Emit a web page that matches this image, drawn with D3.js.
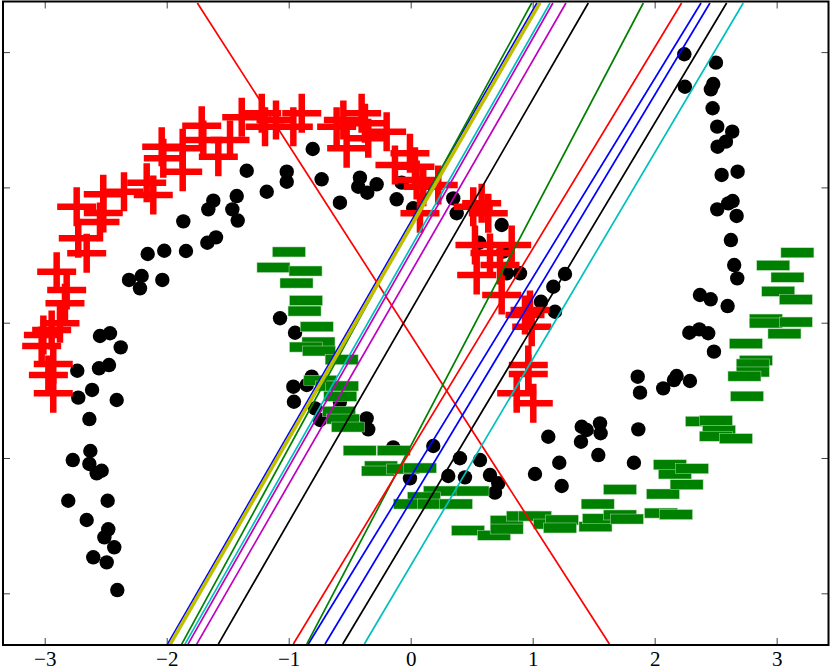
<!DOCTYPE html>
<html>
<head>
<meta charset="utf-8">
<script src="https://cdn.jsdelivr.net/npm/d3@7"></script>
<style>
  body { margin: 0; background: #fff; }
  svg { display: block; }
</style>
</head>
<body>
<svg id="chart" width="830" height="670"></svg>
<script>
// tick values
const xTicks = [-3, -2, -1, 0, 1, 2, 3];
const yTicks = [-2, -1, 0, 1, 2];

// class 1: black dots
const blackX = [2.243, 2.502, 2.248, 2.480, 2.461, 2.475, 2.513, 2.636, 2.584, 2.516, 2.549, 2.680, 2.513, 2.639, 2.603, 2.672, 2.625, 2.652, 2.677, 2.371, 2.459, 2.598, 2.284, 2.366, 2.439, 2.486,
  1.861, 1.880, 2.070, 2.180, 2.158, 2.289,
  1.402, 1.443, 1.552, 1.557, 1.396, 1.866, 1.830, 1.538, 1.218, 1.238, 1.128, 1.019,
  0.404, 0.568, 0.308, 0.445, 0.650, 0.718, 0.691,
  -0.006, 0.185, -0.143,
  -0.361, -0.348, -0.580, -0.743, -0.784, -0.811, -0.852, -0.962, -0.957, -0.948, -1.071,
  0.746, 0.562, 0.759, 0.896, 0.787, 1.169, 1.068, 1.183, 1.265,
  -0.803, -1.016, -1.016, -0.730, -0.580, -0.416, -0.430, -0.356, -0.279, -0.115, -0.074, 0.021, 0.349, 0.377,
  -1.344, -1.180, -1.426, -1.618, -1.659, -1.462, -1.418, -1.864,
  -1.596, -1.667, -2.156, -2.020, -1.842, -2.309, -2.205, -2.219, -2.036, -2.547, -2.465, -2.377, -2.733, -2.555, -2.473, -2.612, -2.725,
  -2.410, -2.634, -2.626, -2.770, -2.634, -2.574, -2.533, -2.807, -2.484, -2.656, -2.479, -2.511, -2.430, -2.602, -2.492, -2.405];
const blackY = [1.984, 1.922, 1.744, 1.764, 1.725, 1.585, 1.449, 1.412, 1.338, 1.301, 1.092, 1.116, 0.838, 0.899, 0.882, 0.789, 0.611, 0.426, 0.328, 0.205, 0.173, 0.123, -0.074, -0.049, -0.078, -0.214,
  -0.399, -0.517, -0.485, -0.394, -0.424, -0.431,
  -0.769, -0.793, -0.744, -0.817, -0.880, -0.788, -1.035, -0.978, -1.035, -1.207, -0.843, -1.118,
  -1.002, -1.015, -1.133, -1.143, -1.126, -1.187, -1.256,
  -1.150, -0.911, -0.922,
  -0.707, -0.788, -0.584, -0.719, -0.633, -0.399, -0.460, -0.473, -0.584, -0.074, 0.033,
  0.722, 0.591, 0.525, 0.365, 0.365, 0.266, 0.155, 0.081, 0.360,
  1.284, 1.116, 1.042, 1.060, 0.887, 1.072, 1.005, 0.961, 1.023, 0.912, 1.035, 0.846, 0.919, 0.809,
  1.123, 0.968, 0.936, 0.902, 0.838, 0.838, 0.755, 0.749,
  0.631, 0.591, 0.508, 0.532, 0.530, 0.316, 0.345, 0.254, 0.316, -0.098, -0.078, -0.182, -0.355, -0.337, -0.313, -0.497, -0.554,
  -0.571, -0.712, -0.948, -1.015, -1.044, -1.113, -1.094, -1.316, -1.316, -1.458, -1.527, -1.586, -1.660, -1.734, -1.771, -1.976];

// class 2: red plus markers
const plusX = [-2.725, -2.547, -2.656, -2.902, -2.820, -2.834, -2.875, -3.011, -2.943, -3.025, -2.930, -2.970, -2.930,
  -2.738, -2.520, -2.520, -2.350, -2.164, -2.110, -2.041, -2.028, -1.869, -1.869, -1.713, -1.700, -1.577, -1.481, -1.385, -1.221, -1.194, -1.104,
  -0.893, -0.962, -0.607, -0.552, -0.402, -0.375, -0.525, -0.197, -0.348, -0.129, -0.006, 0.035, 0.049, 0.103, 0.076, 0.226, 0.582, 0.636, 0.513,
  0.527, 0.650, 0.732, 0.828, 0.541, 0.746, 0.978, 0.992, 0.937, 0.964, 0.964, 0.869, 1.005];
const plusY = [0.624, 0.744, 0.513, 0.377, 0.242, 0.143, -0.004, -0.091, -0.054, -0.172, -0.305, -0.387, -0.522,
  0.857, 0.949, 0.811, 0.968, 1.035, 0.944, 1.301, 1.215, 1.289, 1.116, 1.456, 1.350, 1.227, 1.350, 1.518, 1.548, 1.449, 1.498,
  1.548, 1.449, 1.449, 1.498, 1.548, 1.474, 1.289, 1.412, 1.363, 1.166, 1.252, 1.153, 1.055, 1.005, 0.809, 1.018, 0.882, 0.809, 0.857,
  0.574, 0.515, 0.426, 0.574, 0.353, 0.205, 0.094, -0.030, 0.057, -0.313, -0.379, -0.522, -0.596];

// class 3: green minus markers
const minusX = [-0.998, -1.125, -0.862, -0.936, -0.858, -0.870, -0.770, -0.756, -0.858, -0.752, -0.566, -0.741, -0.645, -0.563, -0.577, -0.588, -0.555, -0.514,
  -0.418, -0.139, -0.243, -0.268, -0.063, 0.076, 0.240, 0.507, 0.109, -0.006, 0.191, 0.371, 0.787, 0.920, 1.019, 1.142, 0.470, 0.683, 0.787,
  1.240, 1.224, 1.515, 1.543, 1.716, 1.773, 1.533, 1.716, 2.052, 2.175, 2.068, 2.262, 2.166, 2.125, 2.306, 2.388, 2.502, 2.527, 2.502, 2.666,
  3.170, 2.972, 3.089, 3.013, 3.157, 2.912, 2.912, 3.157, 3.064, 2.748, 2.830, 2.804, 2.804, 2.736, 2.757];
const minusY = [0.523, 0.408, 0.382, 0.293, 0.164, 0.086, -0.030, -0.143, -0.180, -0.209, -0.273, -0.426, -0.468, -0.468, -0.544, -0.655, -0.712, -0.771,
  -0.945, -0.945, -1.059, -1.096, -1.081, -1.074, -1.244, -1.244, -1.288, -1.340, -1.340, -1.340, -1.462, -1.429, -1.429, -1.488, -1.536, -1.571, -1.525,
  -1.458, -1.517, -1.508, -1.449, -1.421, -1.451, -1.340, -1.233, -1.407, -1.418, -1.266, -1.197, -1.118, -1.050, -1.079, -0.729, -0.723, -0.795, -0.839, -0.857,
  0.517, 0.424, 0.336, 0.232, 0.171, 0.027, -0.002, 0.005, -0.082, -0.155, -0.279, -0.305, -0.364, -0.395, -0.543];

// separating lines: x where each crosses the top (lineTopY) and bottom (lineBottomY)
const lineTopY = 2.363;
const lineBottomY = -2.375;
const lineColors = ['b', 'g', 'r', 'c', 'm', 'y', 'k', 'b', 'g', 'r', 'c', 'm', 'y', 'k', 'b'];
const lineTopX = [1.035, 0.992, -1.749, 1.142, 1.166, 1.052, 1.456, 2.380, 1.907, 2.221, 2.726, 1.273, 1.064, 2.590, 2.453];
const lineBottomX = [-1.993, -1.877, 1.629, -1.850, -1.825, -1.977, -1.577, -0.839, -0.852, -0.962, -0.380, -1.754, -1.965, -0.557, -0.702];

const colorMap = {
  b: '#0000ff', g: '#008000', r: '#ff0000', c: '#00bfbf',
  m: '#bf00bf', y: '#bfbf00', k: '#000000',
};

const margin = { top: 1.5, right: 1.5, bottom: 25, left: 3 };
const svg = d3.select('#chart');
const width = +svg.attr('width') - margin.left - margin.right;
const height = +svg.attr('height') - margin.top - margin.bottom;

const x = d3.scaleLinear().domain([-3.342, 3.425]).range([0, width]);
const y = d3.scaleLinear().domain([-2.382, 2.374]).range([height, 0]);

svg.append('defs').append('clipPath').attr('id', 'plot-clip')
  .append('rect').attr('width', width).attr('height', height);

const main = svg.append('g')
  .attr('transform', `translate(${margin.left},${margin.top})`);

const plot = main.append('g').attr('clip-path', 'url(#plot-clip)');

const blackPts = d3.zip(blackX, blackY);
const plusPts = d3.zip(plusX, plusY);
const minusPts = d3.zip(minusX, minusY);

plot.selectAll('.dot')
  .data(blackPts)
  .enter()
  .append('circle')
  .attr('class', 'dot')
  .attr('cx', (d) => x(d[0]))
  .attr('cy', (d) => y(d[1]))
  .attr('r', 7.2)
  .attr('fill', '#000');

const arm = 19.5;
plot.selectAll('.plus')
  .data(plusPts)
  .enter()
  .append('path')
  .attr('class', 'plus')
  .attr('d', (d) => {
    const cx = x(d[0]);
    const cy = y(d[1]);
    return `M${cx - arm},${cy}H${cx + arm}M${cx},${cy - arm}V${cy + arm}`;
  })
  .attr('stroke', '#ff0000')
  .attr('stroke-width', 6.5)
  .attr('fill', 'none');

plot.selectAll('.minus')
  .data(minusPts)
  .enter()
  .append('rect')
  .attr('class', 'minus')
  .attr('x', (d) => x(d[0]) - 16.5)
  .attr('y', (d) => y(d[1]) - 5)
  .attr('width', 33)
  .attr('height', 10)
  .attr('fill', '#008000')
  .attr('stroke', '#b5dcb5')
  .attr('stroke-width', 0.5);

const lines = lineColors.map((c, i) => ({
  color: colorMap[c],
  pts: [[lineTopX[i], lineTopY], [lineBottomX[i], lineBottomY]],
  wide: c === 'y',
}));

const lineGen = d3.line().x((d) => x(d[0])).y((d) => y(d[1]));

plot.selectAll('.sep')
  .data(lines)
  .enter()
  .append('path')
  .attr('class', 'sep')
  .attr('d', (d) => lineGen(d.pts))
  .attr('stroke', (d) => d.color)
  .attr('stroke-width', (d) => (d.wide ? 2.4 : 1.7))
  .attr('fill', 'none');

// axes: inward ticks on all four sides
const fmt = (v) => (v < 0 ? `\u2212${Math.abs(v)}` : `${v}`);

const styleAxis = (g) => {
  g.select('.domain').remove();
  g.selectAll('.tick line').attr('stroke', '#444').attr('stroke-width', 1);
};

main.append('g')
  .attr('transform', `translate(0,${height})`)
  .call(d3.axisBottom(x).tickValues(xTicks).tickSize(-7).tickPadding(6).tickFormat(fmt))
  .call(styleAxis)
  .call((g) => g.selectAll('text')
    .attr('fill', '#000')
    .style('font-family', '"Liberation Serif", "DejaVu Serif", serif')
    .style('font-size', '21px'));

main.append('g')
  .call(d3.axisTop(x).tickValues(xTicks).tickSize(-7).tickFormat(''))
  .call(styleAxis);

main.append('g')
  .call(d3.axisLeft(y).tickValues(yTicks).tickSize(-7).tickFormat(''))
  .call(styleAxis);

main.append('g')
  .attr('transform', `translate(${width},0)`)
  .call(d3.axisRight(y).tickValues(yTicks).tickSize(-7).tickFormat(''))
  .call(styleAxis);

main.append('rect')
  .attr('width', width)
  .attr('height', height)
  .attr('fill', 'none')
  .attr('stroke', '#000')
  .attr('stroke-width', 2);
</script>
</body>
</html>
